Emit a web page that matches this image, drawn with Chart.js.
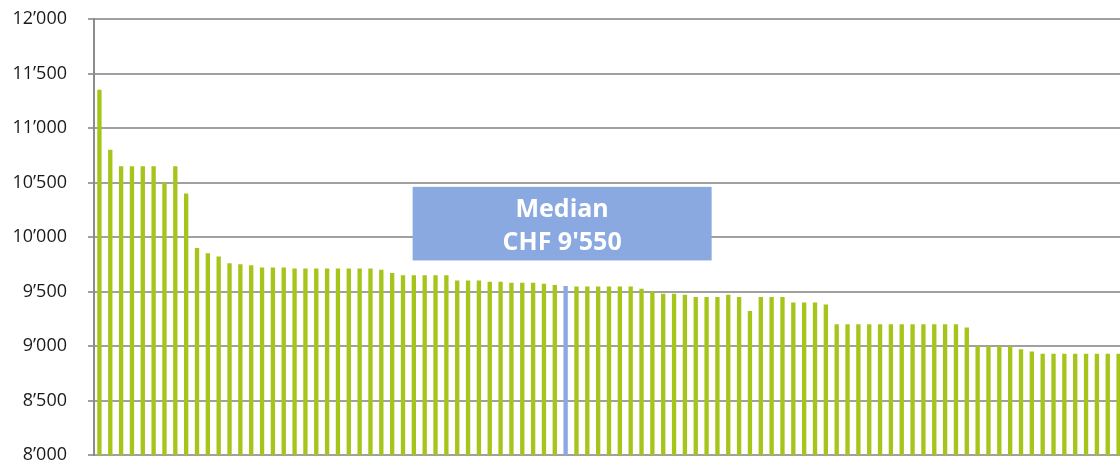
<!DOCTYPE html>
<html>
<head>
<meta charset="utf-8">
<script src="https://cdn.jsdelivr.net/npm/chart.js@4"></script>
<style>
    html, body { margin: 0; padding: 0; overflow: hidden; background: #fff; }
    #wrap { position: absolute; left: 0; top: 0; width: 1124px; height: 475px; }
</style>
</head>
<body>
<div id="wrap"><canvas id="graphSalary"></canvas></div>
<script>
// salaries sorted high to low, one bar per entry
var salaries = [
    11350, 10800, 10650, 10650, 10650, 10650, 10500, 10650, 10400, 9900,
    9850, 9820, 9760, 9750, 9740, 9720, 9720, 9720, 9710, 9710,
    9710, 9710, 9710, 9710, 9710, 9710, 9700, 9670, 9650, 9650,
    9650, 9650, 9650, 9600, 9600, 9600, 9590, 9590, 9580, 9580,
    9580, 9570, 9560, 9550, 9545, 9545, 9545, 9545, 9545, 9545,
    9525, 9500, 9480, 9480, 9470, 9450, 9450, 9450, 9470, 9450,
    9320, 9450, 9450, 9450, 9400, 9400, 9400, 9380, 9200, 9200,
    9200, 9200, 9200, 9200, 9200, 9200, 9200, 9200, 9200, 9200,
    9170, 9000, 9000, 9000, 9000, 8970, 8950, 8930, 8930, 8930,
    8930, 8930, 8930, 8930, 8930
];
var ranks = salaries.map(function (v, i) { return String(i + 1); });
var medianIndex = 43;
var medianValue = 9550;
var medianLines = ['Median', "CHF 9'550"];
var yTicks = [8000, 8500, 9000, 9500, 10000, 10500, 11000, 11500, 12000];

var green = '#a6c51b';
var blue = '#8aa9e0';

function fmt(v) {
    return String(v).replace(/\B(?=(\d{3})+(?!\d))/g, '\u2019');
}

const medianBox = {
    id: 'medianBox',
    afterDatasetsDraw: function (chart) {
        const ctx = chart.ctx;
        const x = chart.scales.x.getPixelForValue(medianIndex) - 3.5;
        const top = chart.scales.y.getPixelForValue(10460);
        const bottom = chart.scales.y.getPixelForValue(9785);
        ctx.save();
        ctx.fillStyle = blue;
        ctx.fillRect(x - 149.5, top, 299, bottom - top);
        ctx.fillStyle = '#ffffff';
        ctx.font = 'bold 25px "Open Sans"';
        ctx.textAlign = 'center';
        ctx.textBaseline = 'alphabetic';
        ctx.fillText(medianLines[0], x, top + 30);
        ctx.fillText(medianLines[1], x, top + 63.4);
        ctx.restore();
    }
};

const $grafica = document.querySelector('#graphSalary');
var salaryChart = new Chart($grafica, {
    type: 'bar',
    data: {
        labels: ranks,
        datasets: [{
            data: salaries,
            backgroundColor: salaries.map(function (v, i) { return i === medianIndex ? blue : green; }),
            barPercentage: 0.4,
            categoryPercentage: 1
        }]
    },
    options: {
        responsive: true,
        maintainAspectRatio: false,
        animation: false,
        layout: {
            padding: { top: 19, bottom: 20, left: 0, right: 0 }
        },
        plugins: {
            legend: { display: false },
            tooltip: { enabled: false }
        },
        scales: {
            x: {
                display: false
            },
            y: {
                min: yTicks[0],
                max: yTicks[yTicks.length - 1],
                afterBuildTicks: function (scale) {
                    scale.ticks = yTicks.map(function (v) { return { value: v }; });
                },
                afterFit: function (scale) {
                    scale.width = 94;
                    scale.paddingTop = 0;
                    scale.paddingBottom = 0;
                },
                grid: {
                    color: '#a0a0a0',
                    lineWidth: 2,
                    tickLength: 6
                },
                border: {
                    display: true,
                    color: '#8c8c8c',
                    width: 2
                },
                ticks: {
                    padding: 21,
                    color: '#1a1a1a',
                    font: { family: '"Open Sans"', size: 18 },
                    callback: function (v) { return fmt(v); }
                }
            }
        }
    },
    plugins: [medianBox]
});
</script>
</body>
</html>
